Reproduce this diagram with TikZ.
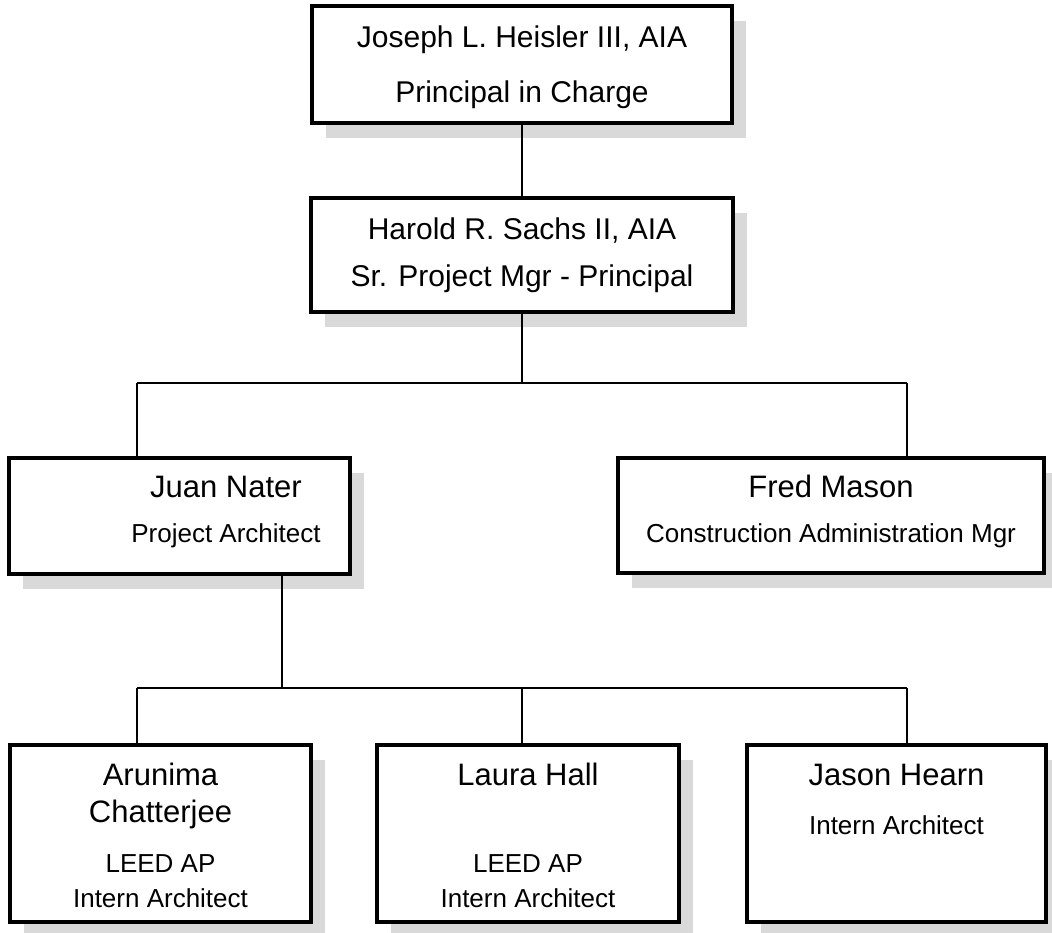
\documentclass[tikz,border=0pt]{standalone}
\usepackage{fontspec}
\setmainfont{Liberation Sans}
\usetikzlibrary{shadows}
\begin{document}
\begin{tikzpicture}[x=1pt,y=-1pt,
  orgbox/.style={rectangle, draw=black, line width=3.6pt, fill=white, inner sep=0pt,
    drop shadow={shadow xshift=14pt, shadow yshift=-15pt, fill=black!15, opacity=1}},
  topname/.style={anchor=base, inner sep=0pt, font=\fontsize{30}{36}\selectfont},
  pname/.style={anchor=base, inner sep=0pt, font=\fontsize{31}{37}\selectfont},
  prole/.style={anchor=base, inner sep=0pt, font=\fontsize{26}{31}\selectfont},
  orglink/.style={line width=2.2pt, draw=black}]
\useasboundingbox (0,0) rectangle (1052,932);

% boxes
\node[orgbox, minimum width=420pt, minimum height=117pt] (b1) at (522,64.5) {};
\node[orgbox, minimum width=422pt, minimum height=114pt] (b2) at (522,255) {};
\node[orgbox, minimum width=341pt, minimum height=116pt] (b3) at (179.5,516) {};
\node[orgbox, minimum width=426pt, minimum height=115pt] (b4) at (831,515.5) {};
\node[orgbox, minimum width=301pt, minimum height=177pt] (b5) at (160.5,833.5) {};
\node[orgbox, minimum width=302pt, minimum height=177pt] (b6) at (528,833.5) {};
\node[orgbox, minimum width=299pt, minimum height=177pt] (b7) at (896.5,833.5) {};

% texts
\node[topname] (t1a) at (b1.center |- 0,47) {Joseph L. Heisler III, AIA};
\node[topname] (t1b) at (b1.center |- 0,102) {Principal in Charge};
\node[topname] (t2a) at (b2.center |- 0,239) {Harold R. Sachs II, AIA};
\node[topname] (t2b) at (b2.center |- 0,286) {Sr. Project Mgr - Principal};
\node[pname] (t3a) at (226,497) {Juan Nater};
\node[prole] (t3b) at (226,542) {Project Architect};
\node[pname] (t4a) at (b4.center |- 0,497) {Fred Mason};
\node[prole] (t4b) at (b4.center |- 0,542) {Construction Administration Mgr};
\node[pname] (t5a) at (b5.center |- 0,785) {Arunima};
\node[pname] (t5b) at (b5.center |- 0,822) {Chatterjee};
\node[prole] (t5c) at (b5.center |- 0,872) {LEED AP};
\node[prole] (t5d) at (b5.center |- 0,907) {Intern Architect};
\node[pname] (t6a) at (b6.center |- 0,785) {Laura Hall};
\node[prole] (t6c) at (b6.center |- 0,872) {LEED AP};
\node[prole] (t6d) at (b6.center |- 0,907) {Intern Architect};
\node[pname] (t7a) at (b7.center |- 0,785) {Jason Hearn};
\node[prole] (t7b) at (b7.center |- 0,834) {Intern Architect};

% junction coordinates
\coordinate (j1) at (137,383);
\coordinate (j2) at (907,383);
\coordinate (d1) at (282,688);
\coordinate (k1) at (137,688);
\coordinate (k2) at (907,688);
\coordinate (k3) at (522,688);

% connectors
\draw[orglink] (b1.south) -- (b2.north);
\draw[orglink] (b2.south) -- (b2.south |- j1);
\draw[orglink] (j1) -- (j2);
\draw[orglink] (j1) -- (j1 |- b3.north);
\draw[orglink] (j2) -- (j2 |- b4.north);
\draw[orglink] (d1 |- b3.south) -- (d1);
\draw[orglink] (k1) -- (k2);
\draw[orglink] (k1) -- (k1 |- b5.north);
\draw[orglink] (k3) -- (k3 |- b6.north);
\draw[orglink] (k2) -- (k2 |- b7.north);
\end{tikzpicture}
\end{document}
